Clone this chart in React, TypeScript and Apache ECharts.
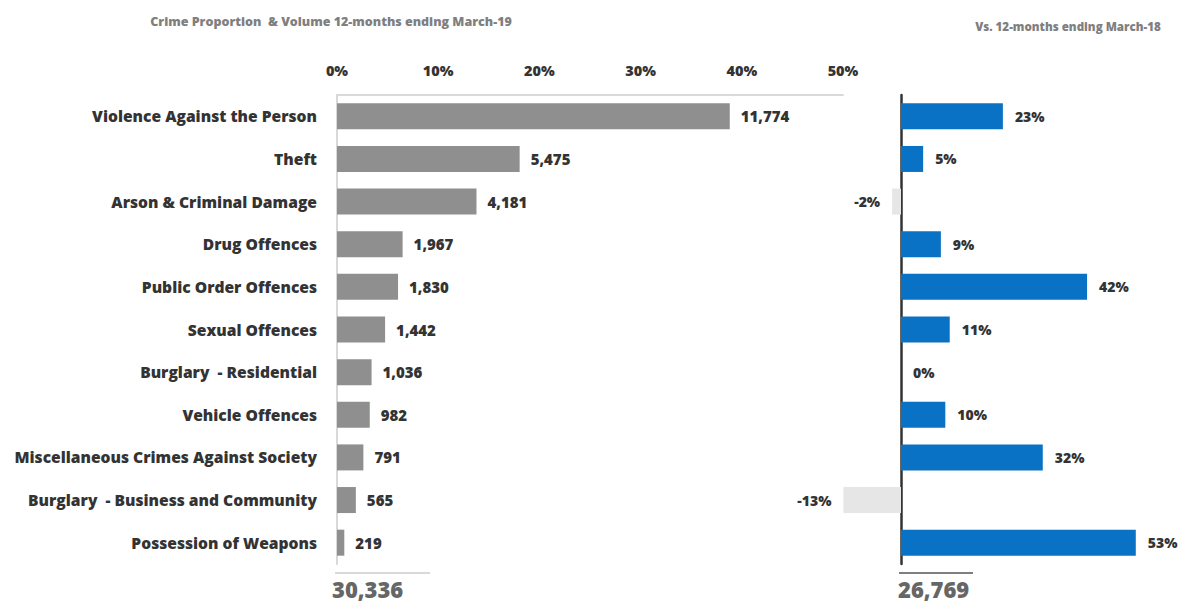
import React, { useEffect, useRef } from "react";
import * as echarts from "echarts";

const categories = [
  "Violence Against the Person",
  "Theft",
  "Arson & Criminal Damage",
  "Drug Offences",
  "Public Order Offences",
  "Sexual Offences",
  "Burglary  - Residential",
  "Vehicle Offences",
  "Miscellaneous Crimes Against Society",
  "Burglary  - Business and Community",
  "Possession of Weapons",
];
const volumes = [11774, 5475, 4181, 1967, 1830, 1442, 1036, 982, 791, 565, 219];
const changes = [23, 5, -2, 9, 42, 11, 0, 10, 32, -13, 53];
const totalCurrent = 30336;
const totalPrevious = 26769;
const leftTicks = [0, 10, 20, 30, 40, 50];

const FONT = "'Open Sans', Lato, sans-serif";

export default function App() {
  const ref = useRef<HTMLDivElement>(null);
  useEffect(() => {
    const chart = echarts.init(ref.current!, null, { renderer: "svg" });
    const proportions = volumes.map((v) => (v / totalCurrent) * 100);
    const fmt = (n: number) => n.toLocaleString("en-GB");
    chart.setOption({
      animation: false,
      backgroundColor: "#ffffff",
      textStyle: { fontFamily: FONT },
      title: [
        {
          text: "Crime Proportion  & Volume 12-months ending March-19",
          left: 326,
          top: 10,
          textAlign: "center",
          textStyle: { fontSize: 12.5, fontWeight: 800, color: "#7f7f7f", fontFamily: FONT },
        },
        {
          text: "Vs. 12-months ending March-18",
          left: 1063,
          top: 15,
          textAlign: "center",
          textStyle: { fontSize: 11.6, fontWeight: 800, color: "#7f7f7f", fontFamily: FONT },
        },
      ],
      grid: [
        { left: 337, width: 506, top: 95, height: 469 },
        { left: 812.4, width: 354.4, top: 95, height: 469 },
      ],
      xAxis: [
        {
          type: "value",
          gridIndex: 0,
          position: "top",
          min: 0,
          max: 50,
          interval: 10,
          axisLine: { show: true, lineStyle: { color: "#d9d9d9", width: 2 } },
          axisTick: { show: false },
          splitLine: { show: false },
          axisLabel: {
            formatter: (v: number) => (leftTicks.includes(v) ? v + "%" : ""),
            color: "#333333",
            fontWeight: 800,
            fontSize: 14.5,
            fontFamily: FONT,
            margin: 17,
          },
        },
        {
          type: "value",
          gridIndex: 1,
          min: -20,
          max: 60,
          show: false,
          splitLine: { show: false },
        },
      ],
      yAxis: [
        {
          type: "category",
          gridIndex: 0,
          data: categories,
          inverse: true,
          axisLine: { show: true, lineStyle: { color: "#d9d9d9", width: 2 } },
          axisTick: { show: false },
          axisLabel: {
            color: "#333333",
            fontWeight: 800,
            fontSize: 15.6,
            fontFamily: FONT,
            margin: 20,
          },
        },
        {
          type: "category",
          gridIndex: 1,
          data: categories,
          inverse: true,
          axisLine: { show: true, onZero: true, lineStyle: { color: "#333333", width: 2.5 } },
          axisTick: { show: false },
          axisLabel: { show: false },
        },
      ],
      series: [
        {
          type: "bar",
          xAxisIndex: 0,
          yAxisIndex: 0,
          data: proportions,
          barWidth: 26,
          itemStyle: { color: "#8f8f8f" },
          label: {
            show: true,
            position: "right",
            distance: 11,
            formatter: (p: any) => fmt(volumes[p.dataIndex]),
            color: "#333333",
            fontWeight: 800,
            fontSize: 15,
            fontFamily: FONT,
          },
        },
        {
          type: "bar",
          xAxisIndex: 1,
          yAxisIndex: 1,
          data: changes.map((c) => ({
            value: c,
            itemStyle: { color: c < 0 ? "#e6e6e6" : "#0a72c4" },
            label: { position: c < 0 ? "left" : "right" },
          })),
          barWidth: 26,
          label: {
            show: true,
            distance: 12,
            formatter: (p: any) => p.value + "%",
            color: "#333333",
            fontWeight: 800,
            fontSize: 14,
            fontFamily: FONT,
          },
        },
      ],
      graphic: [
        {
          type: "line",
          shape: { x1: 335, y1: 573, x2: 430, y2: 573 },
          style: { stroke: "#d9d9d9", lineWidth: 2 },
        },
        {
          type: "line",
          shape: { x1: 899, y1: 573, x2: 973, y2: 573 },
          style: { stroke: "#7f7f7f", lineWidth: 2 },
        },
        {
          type: "text",
          x: 332,
          y: 578,
          style: {
            text: fmt(totalCurrent),
            fill: "#666666",
            font: `800 22px ${FONT}`,
          },
        },
        {
          type: "text",
          x: 898,
          y: 578,
          style: {
            text: fmt(totalPrevious),
            fill: "#666666",
            font: `800 22px ${FONT}`,
          },
        },
      ],
    });
    return () => chart.dispose();
  }, []);
  return (
    <div
      ref={ref}
      style={{ position: "fixed", left: 0, top: 0, width: 1191, height: 607 }}
    />
  );
}
